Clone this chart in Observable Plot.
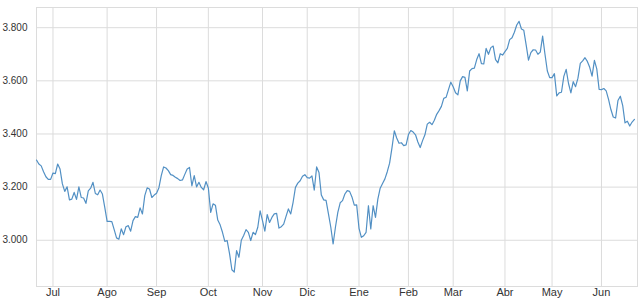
<!DOCTYPE html>
<html>
<head>
<meta charset="utf-8">
<script src="https://cdn.jsdelivr.net/npm/d3@7"></script>
<script src="https://cdn.jsdelivr.net/npm/@observablehq/plot@0.6"></script>
<style>
  html, body { margin: 0; padding: 0; background: #fff; }
  #chart svg { display: block; }
</style>
</head>
<body>
<div id="chart"></div>
<script>
// Daily closing values (trading days)
const values = [
  3302,3287,3280,3258,3239,3229,3229,3253,3251,3287,
  3268,3212,3184,3201,3152,3155,3180,3154,3201,3161,
  3159,3139,3186,3196,3218,3176,3171,3189,3174,3124,
  3071,3071,3070,3040,3009,3004,3043,3021,3051,3055,
  3034,3074,3089,3086,3122,3099,3168,3197,3193,3161,
  3170,3177,3198,3243,3276,3272,3262,3247,3244,3237,
  3232,3225,3227,3248,3268,3274,3205,3243,3201,3218,
  3199,3190,3221,3197,3105,3137,3132,3076,3058,3030,
  2996,2999,2950,2889,2880,2961,2936,3000,3018,3040,
  3030,2999,3030,3021,3049,3111,3074,3034,3097,3067,
  3086,3099,3101,3046,3051,3061,3090,3118,3099,3143,
  3199,3215,3224,3241,3247,3236,3234,3242,3189,3276,
  3255,3170,3152,3150,3100,3050,2986,3050,3105,3141,
  3149,3174,3187,3184,3163,3132,3133,3045,3011,3017,
  3030,3130,3043,3130,3086,3155,3196,3214,3231,3258,
  3290,3348,3412,3385,3365,3367,3356,3359,3398,3413,
  3407,3397,3370,3349,3375,3397,3437,3444,3435,3452,
  3474,3488,3504,3534,3538,3567,3595,3578,3555,3547,
  3600,3616,3613,3562,3637,3646,3648,3680,3702,3665,
  3664,3722,3700,3725,3731,3680,3668,3702,3697,3710,
  3722,3755,3762,3783,3810,3824,3795,3790,3735,3678,
  3706,3717,3716,3700,3708,3768,3700,3637,3612,3612,
  3627,3543,3555,3557,3617,3643,3590,3555,3597,3578,
  3610,3666,3675,3687,3673,3651,3618,3677,3645,3568,
  3567,3571,3562,3530,3492,3464,3460,3526,3542,3508,
  3442,3448,3430,3445,3455
];

// Month labels and the trading-day index where each month starts
const monthLabels = ["Jul","Ago","Sep","Oct","Nov","Dic","Ene","Feb","Mar","Abr","May","Jun"];
const monthStarts = [7, 30, 51, 73, 96, 115, 137, 158, 177, 199, 219, 240];

// Y tick values
const yTicks = [3000, 3200, 3400, 3600, 3800];

const data = values.map((v, i) => ({ i, v }));

const locale = d3.formatLocale({ decimal: ",", thousands: ".", grouping: [3], currency: ["", ""] });
const fmt = locale.format(",");

const chart = Plot.plot({
  width: 643,
  height: 306,
  marginTop: 7,
  marginBottom: 20,
  marginLeft: 36,
  marginRight: 6,
  style: { fontFamily: "'Liberation Sans', Arial, sans-serif", background: "#fff", color: "#333" },
  x: { domain: [0, 255.3], axis: null, label: null },
  y: { domain: [2826, 3876], axis: null, label: null },
  marks: [
    Plot.ruleX(monthStarts, { stroke: "#dcdcdc", strokeWidth: 1 }),
    Plot.ruleY(yTicks, { stroke: "#dcdcdc", strokeWidth: 1 }),
    Plot.frame({ stroke: "#dcdcdc" }),
    Plot.line(data, { x: "i", y: "v", stroke: "#5290c4", strokeWidth: 1.2 }),
    Plot.axisY(yTicks, {
      label: null, tickSize: 0, tickPadding: 9, fontSize: 10, fill: "#333",
      tickFormat: d => fmt(d)
    }),
    Plot.axisX(monthStarts, {
      label: null, tickSize: 0, tickPadding: 2, fontSize: 11, fill: "#333",
      tickFormat: d => monthLabels[monthStarts.indexOf(d)]
    })
  ]
});

document.getElementById("chart").appendChild(chart);
</script>
</body>
</html>
